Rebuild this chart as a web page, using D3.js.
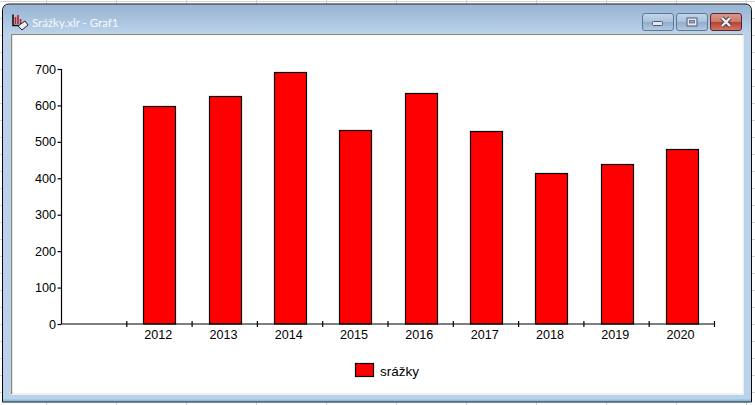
<!DOCTYPE html>
<html><head><meta charset="utf-8">
<script src="https://cdn.jsdelivr.net/npm/d3@7"></script>
<style>html,body{margin:0;padding:0;background:#fff;overflow:hidden}svg{display:block}text{font-family:"Liberation Sans",Arial,sans-serif}</style>
</head><body><div id="c"></div>
<script>
const categories = ["", "2012","2013","2014","2015","2016","2017","2018","2019","2020"];
const years = categories.slice(1);
const rainfall = [598,625,692,532,635,530,415,440,480];
const yTicks = [0,100,200,300,400,500,600,700];
const seriesName = "srážky";
const windowTitle = "Srážky.xlr - Graf1";

const W=755,H=405;
const svg=d3.select("#c").append("svg").attr("width",W).attr("height",H);
const defs=svg.append("defs");
const tg=defs.append("linearGradient").attr("id","tb").attr("x1",0).attr("x2",0).attr("y1",0).attr("y2",1);
tg.append("stop").attr("offset",0).attr("stop-color","#97b4d3");
tg.append("stop").attr("offset",1).attr("stop-color","#bdd3ea");
function btnGrad(id,a,b,c,d){const g=defs.append("linearGradient").attr("id",id).attr("x1",0).attr("x2",0).attr("y1",0).attr("y2",1);
 g.append("stop").attr("offset",0).attr("stop-color",a);g.append("stop").attr("offset",.5).attr("stop-color",b);
 g.append("stop").attr("offset",.5).attr("stop-color",c);g.append("stop").attr("offset",1).attr("stop-color",d);}
btnGrad("bb","#c3d5e8","#a9c1db","#8fabcb","#b5cbe2");
btnGrad("br","#dd9a8e","#c9786a","#b5402c","#cf7a68");

// spreadsheet behind the window
const bg=svg.append("g").attr("stroke","#d4d4d4").attr("stroke-width",1);
d3.range(46.5,W,70).forEach(x=>bg.append("line").attr("x1",x).attr("x2",x).attr("y1",0).attr("y2",H));
d3.range(1.5,H,17).forEach(y=>bg.append("line").attr("x1",0).attr("x2",W).attr("y1",y).attr("y2",y));

// window frame
svg.append("path").attr("d","M2.5,402 V11 Q2.5,4 9.5,4 H745 Q751.5,4 751.5,11 V402 Z").attr("fill","#bcd2ea").attr("stroke","#0a0a0a").attr("stroke-width",1);
svg.append("path").attr("d","M3,35 V11 Q3,5 10,5 H745 Q751,5 751,11 V35 Z").attr("fill","url(#tb)");
svg.append("rect").attr("x",3).attr("y",399.5).attr("width",748).attr("height",1.5).attr("fill","#7cc3e6");
svg.append("rect").attr("x",11).attr("y",34.5).attr("width",733).attr("height",360.5).attr("fill","#f0f0ea");
svg.append("rect").attr("x",11).attr("y",34).attr("width",732).attr("height",1.2).attr("fill","#8e8a6e");
svg.append("rect").attr("x",11).attr("y",34).attr("width",1.4).attr("height",360).attr("fill","#8e8a7a");
svg.append("rect").attr("x",12.5).attr("y",35.2).attr("width",730).attr("height",358).attr("fill","#fff");

// title
svg.append("text").attr("x",32).attr("y",27).attr("font-size",11.5).attr("fill","#fff").style("font-family","Lato,sans-serif").attr("opacity",.9).text(windowTitle);
const ic=svg.append("g");
ic.append("path").attr("d","M13,14.5 V25.5 H22").attr("fill","none").attr("stroke","#111").attr("stroke-width",1.6);
ic.append("path").attr("d","M15.5,24 V17 M18,24 V15 M20.5,24 V19").attr("stroke","#c02020").attr("stroke-width",1.6);
ic.append("path").attr("d","M18,26 L25,21 L28,25 L22,30 Z").attr("fill","#eee").attr("stroke","#222").attr("stroke-width",1);

// window buttons
const buttons=[{x:642.5,w:31,f:"url(#bb)",s:"#5e7795"},{x:676.5,w:31,f:"url(#bb)",s:"#5e7795"},{x:710.5,w:31,f:"url(#br)",s:"#5a2330"}];
svg.selectAll("rect.b").data(buttons).join("rect").attr("class","b").attr("x",d=>d.x).attr("y",13.5).attr("width",d=>d.w).attr("height",17).attr("rx",2.5).attr("fill",d=>d.f).attr("stroke",d=>d.s);
svg.append("rect").attr("x",652.5).attr("y",21.5).attr("width",10).attr("height",4).attr("rx",1).attr("fill","#e6e6ee").attr("stroke","#4a5a70");
svg.append("rect").attr("x",687).attr("y",18).attr("width",10).attr("height",8).attr("fill","#e6e6ee").attr("stroke","#4a5a70");
svg.append("rect").attr("x",689.5).attr("y",20.5).attr("width",5).attr("height",2.5).attr("fill","#8fabcb").attr("stroke","#4a5a70").attr("stroke-width",.7);
svg.append("path").attr("d","M722,18 L730,26 M730,18 L722,26").attr("stroke","#3d3d4d").attr("stroke-width",4.2);
svg.append("path").attr("d","M722,18 L730,26 M730,18 L722,26").attr("stroke","#f2f2f2").attr("stroke-width",2.4);

// chart
const x=d3.scaleBand().domain(categories).range([61.5,714.5]);
const y=d3.scaleLinear().domain([0,700]).range([324,69]);
const barW=32;
const g=svg.append("g");
g.selectAll("rect.bar").data(years.map((c,i)=>({c,v:rainfall[i]}))).join("rect").attr("class","bar")
 .attr("x",d=>Math.round(x(d.c)+x.bandwidth()/2-barW/2)+.5).attr("width",barW)
 .attr("y",d=>Math.round(y(d.v))+.5).attr("height",d=>y(0)-Math.round(y(d.v))-.5)
 .attr("fill","#ff0000").attr("stroke","#000").attr("stroke-width",1.2);

const ya=g.append("g").attr("transform","translate(61.5,0)").call(d3.axisLeft(y).tickValues(yTicks).tickSize(4).tickPadding(1.5).tickFormat(d3.format("d")));
ya.selectAll("path,line").attr("stroke","#000").attr("stroke-width",1.2);
ya.select("path").attr("d",`M0,${y(700)}V${y(0)}`);
ya.selectAll("text").attr("font-size",12.6).attr("fill","#000").style("font-family","'Liberation Sans',sans-serif");

const xa=g.append("g").attr("transform",`translate(0,${y(0)})`).call(d3.axisBottom(x).tickSize(0).tickPadding(6));
xa.select("path").attr("d","M61.5,0H714.5").attr("stroke","#000").attr("stroke-width",1.2);
xa.selectAll("line").remove();
xa.selectAll("text").attr("font-size",12.6).attr("fill","#000").attr("dx",-1.3).style("font-family","'Liberation Sans',sans-serif");
xa.selectAll("line.sep").data(categories).join("line").attr("class","sep")
 .attr("x1",d=>x(d)+x.bandwidth()).attr("x2",d=>x(d)+x.bandwidth()).attr("y1",-3).attr("y2",3).attr("stroke","#000").attr("stroke-width",1.2);

// legend
svg.append("rect").attr("x",355.5).attr("y",363.5).attr("width",18).attr("height",13).attr("fill","#ff0000").attr("stroke","#000").attr("stroke-width",1.2);
svg.append("text").attr("x",380).attr("y",375.5).attr("font-size",13.5).attr("fill","#000").text(seriesName);
</script></body></html>
